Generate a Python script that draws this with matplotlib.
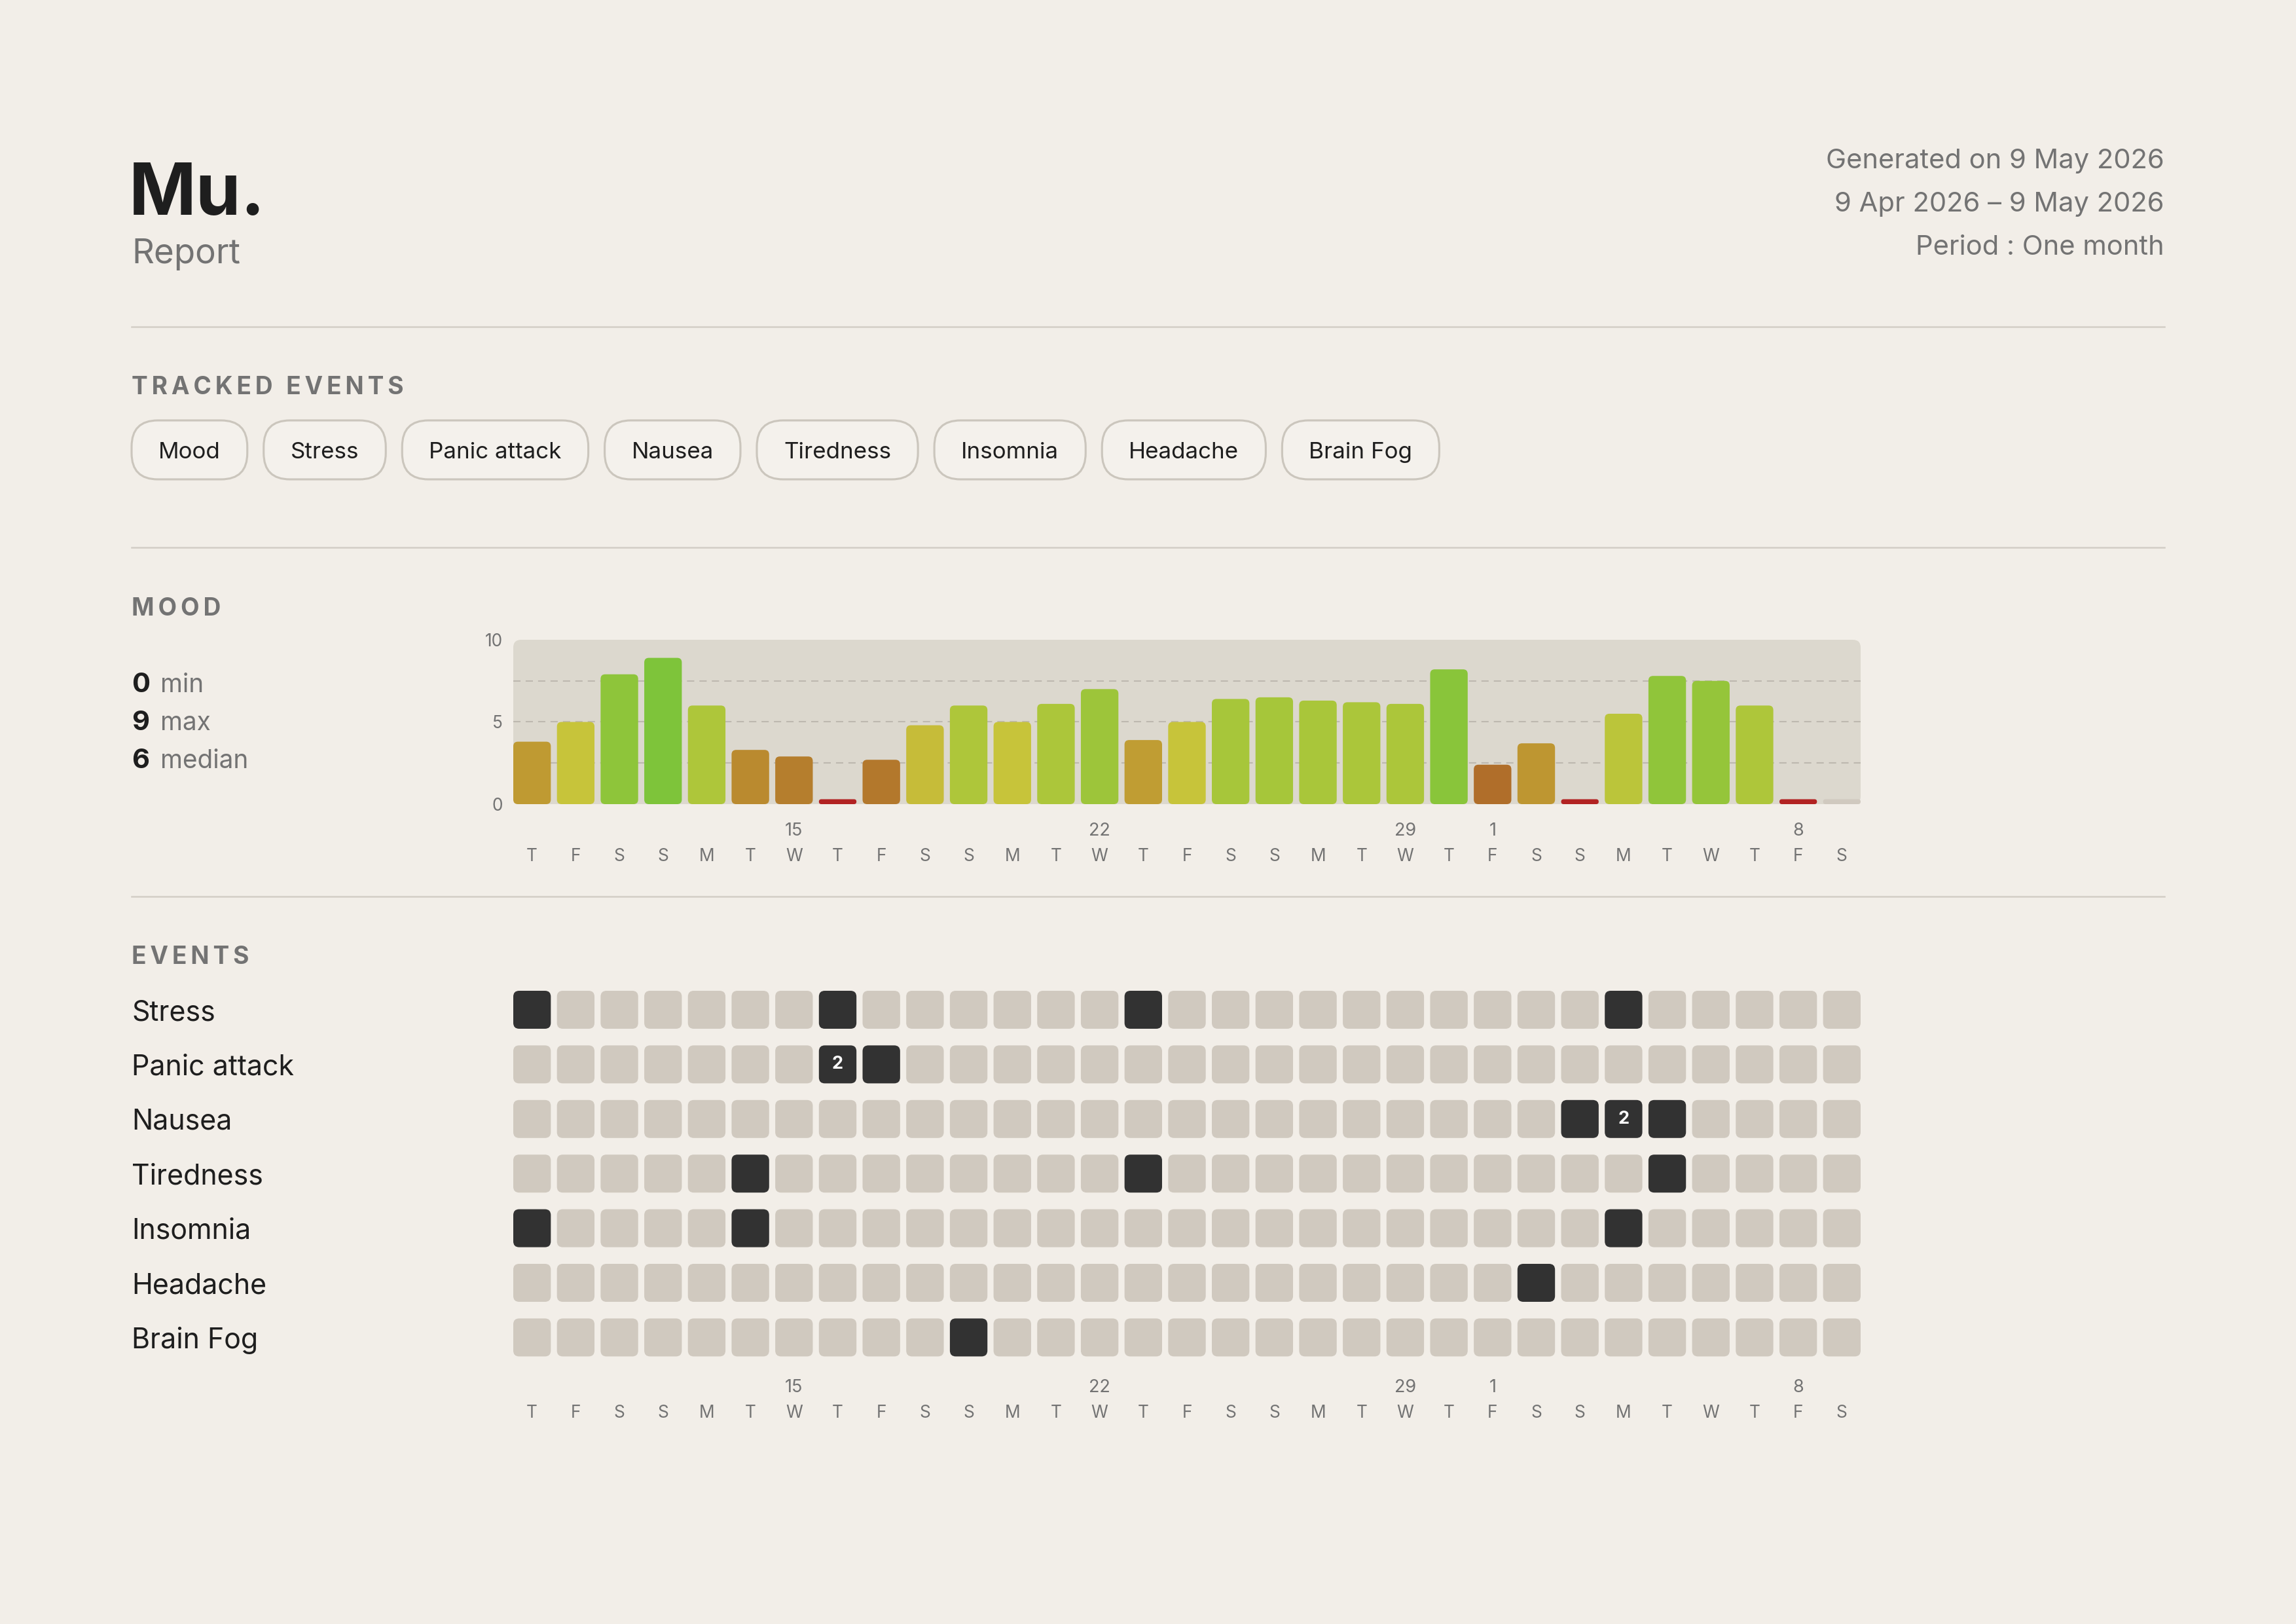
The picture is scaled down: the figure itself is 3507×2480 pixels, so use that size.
import numpy as np
import matplotlib
matplotlib.use("Agg")
import matplotlib.pyplot as plt
from matplotlib.patches import FancyBboxPatch
from matplotlib.lines import Line2D
from matplotlib.colors import LinearSegmentedColormap
from matplotlib.transforms import blended_transform_factory, IdentityTransform

plt.rcParams['font.family'] = ['Inter', 'DejaVu Sans']

# ---- data ----
header_lines = ["Generated on 9 May 2026", "9 Apr 2026 \u2013 9 May 2026", "Period : One month"]
tracked = ["Mood", "Stress", "Panic attack", "Nausea", "Tiredness", "Insomnia", "Headache", "Brain Fog"]

weekdays = ["T", "F", "S", "S", "M", "T", "W", "T", "F", "S", "S", "M", "T", "W", "T", "F",
            "S", "S", "M", "T", "W", "T", "F", "S", "S", "M", "T", "W", "T", "F", "S"]
date_labels = ["", "", "", "", "", "", "15", "", "", "", "", "", "", "22", "", "",
               "", "", "", "", "29", "", "1", "", "", "", "", "", "", "8", ""]

mood = [3.8, 5.0, 7.9, 8.9, 6.0, 3.3, 2.9, 0, 2.7, 4.8, 6.0, 5.0, 6.1, 7.0, 3.9, 5.0,
        6.4, 6.5, 6.3, 6.2, 6.1, 8.2, 2.4, 3.7, 0, 5.5, 7.8, 7.5, 6.0, 0, np.nan]

event_names = ["Stress", "Panic attack", "Nausea", "Tiredness", "Insomnia", "Headache", "Brain Fog"]
stress     = [1,0,0,0,0,0,0,1,0,0,0,0,0,0,1,0,0,0,0,0,0,0,0,0,0,1,0,0,0,0,0]
panic      = [0,0,0,0,0,0,0,2,1,0,0,0,0,0,0,0,0,0,0,0,0,0,0,0,0,0,0,0,0,0,0]
nausea     = [0,0,0,0,0,0,0,0,0,0,0,0,0,0,0,0,0,0,0,0,0,0,0,0,1,2,1,0,0,0,0]
tiredness  = [0,0,0,0,0,1,0,0,0,0,0,0,0,0,1,0,0,0,0,0,0,0,0,0,0,0,1,0,0,0,0]
insomnia   = [1,0,0,0,0,1,0,0,0,0,0,0,0,0,0,0,0,0,0,0,0,0,0,0,0,1,0,0,0,0,0]
headache   = [0,0,0,0,0,0,0,0,0,0,0,0,0,0,0,0,0,0,0,0,0,0,0,1,0,0,0,0,0,0,0]
brain_fog  = [0,0,0,0,0,0,0,0,0,0,1,0,0,0,0,0,0,0,0,0,0,0,0,0,0,0,0,0,0,0,0]
events = [stress, panic, nausea, tiredness, insomnia, headache, brain_fog]

# ---- style ----
BG = "#f2eee8"
PANEL = "#dcd8ce"
RULE = "#d3cec6"
DARK = "#1e1e1e"
GREY = "#737373"
EMPTY = "#d0c9bf"
FILLED = "#323232"
mood_cmap = LinearSegmentedColormap.from_list("mood", [
    (0.0, "#b22222"), (0.24, "#b06e2a"), (0.38, "#bf9a32"), (0.5, "#c8c43a"),
    (0.6, "#aec63a"), (0.9, "#7cc43a"), (1.0, "#6ec23a")])

W, H = 3507, 2480
DPI = 300
fig = plt.figure(figsize=(W / DPI, H / DPI), dpi=DPI)
fig.patch.set_facecolor(BG)
renderer = fig.canvas.get_renderer()


def ftext(x, y, s, **kw):
    return fig.text(x / W, 1 - y / H, s, **kw)


def rule(y):
    fig.add_artist(Line2D([201 / W, 3306 / W], [1 - y / H] * 2, color=RULE, lw=0.6))


def spaced(s):
    return "\u2009".join(s)


# header
ftext(197, 328, "Mu.", fontsize=26.5, fontweight="bold", color=DARK, va="baseline")
ftext(201, 402, "Report", fontsize=12.7, color=GREY, va="baseline")
for y, s in zip([257, 323, 389], header_lines):
    ftext(3306, y, s, fontsize=10, color=GREY, ha="right", va="baseline")
rule(499)

# tracked events chips
ftext(201, 602, spaced("TRACKED EVENTS"), fontsize=8.9, fontweight="bold", color=GREY, va="baseline")
x = 201
for name in tracked:
    t = ftext(x + 41, 687, name, fontsize=8.4, color=DARK, va="center_baseline")
    w = t.get_window_extent(renderer).width
    chip = FancyBboxPatch((x, H - 732), w + 82, 90, boxstyle="round,pad=0,rounding_size=40",
                          transform=IdentityTransform(), facecolor="#f4f1ec",
                          edgecolor="#cbc6bd", lw=0.75, zorder=0)
    fig.add_artist(chip)
    x += w + 82 + 25
rule(836)

# mood section
ftext(201, 940, spaced("MOOD"), fontsize=8.9, fontweight="bold", color=GREY, va="baseline")
vals = np.array(mood, dtype=float)
stats = [(int(round(np.nanmin(vals))), "min"), (int(round(np.nanmax(vals))), "max"),
         (int(round(np.nanmedian(vals))), "median")]
for y, (v, lab) in zip([1057, 1115, 1173], stats):
    ftext(201, y, str(v), fontsize=10, fontweight="bold", color=DARK, va="baseline")
    ftext(245, y, lab, fontsize=9.3, color=GREY, va="baseline")

n = len(mood)
x0, x1 = 784, 2842
ax = fig.add_axes([x0 / W, 1 - 1228 / H, (x1 - x0) / W, (1228 - 977) / H])
ax.set_xlim(-0.43, n - 1 + 0.43)
ax.set_ylim(0, 10)
ax.patch.set_visible(False)
for sp in ax.spines.values():
    sp.set_visible(False)
ax.set_xticks([])
ax.set_yticks([0, 5, 10])
ax.set_yticklabels(["0", "5", "10"])
ax.tick_params(axis="y", length=0, pad=3.8, labelsize=6.3, labelcolor=GREY)

px_x = (x1 - x0) / (n - 1 + 0.86)
px_y = (1228 - 977) / 10

panel = FancyBboxPatch((-0.43, 0), n - 1 + 0.86, 10, boxstyle="round,pad=0,rounding_size=0.18",
                       mutation_aspect=px_x / px_y, facecolor=PANEL, edgecolor="none", zorder=0)
ax.add_patch(panel)
for g in [2.5, 5, 7.5]:
    ax.axhline(g, color="#bdb8af", lw=0.5, dashes=(5.3, 3.8), zorder=1)

stub = 0.3
heights = np.where(np.isnan(vals) | (vals == 0), stub, vals)
colors = []
for v in vals:
    if np.isnan(v):
        colors.append(EMPTY)
    else:
        colors.append(mood_cmap(v / 10))
bars = ax.bar(np.arange(n), heights, width=0.86, color=colors)
r = 7 / px_x
for b, c in zip(bars, colors):
    bx, by = b.get_x(), b.get_y()
    bw, bh = b.get_width(), b.get_height()
    rr = min(r, bh * px_y / px_x / 2)
    ax.add_patch(FancyBboxPatch((bx, by), bw, bh, boxstyle=f"round,pad=0,rounding_size={rr}",
                                mutation_aspect=px_x / px_y, facecolor=c, edgecolor="none", zorder=2))
    b.set_visible(False)


def day_axis(a, y_date, y_day):
    tr_date = blended_transform_factory(a.transData, fig.transFigure)
    for i in range(n):
        if date_labels[i]:
            a.text(i, 1 - y_date / H, date_labels[i], transform=tr_date, ha="center", va="center",
                   fontsize=6.5, color=GREY)
        a.text(i, 1 - y_day / H, weekdays[i], transform=tr_date, ha="center", va="center",
               fontsize=6.3, color=GREY)


day_axis(ax, 1269, 1308)
rule(1369)

# events section
ftext(201, 1472, spaced("EVENTS"), fontsize=8.9, fontweight="bold", color=GREY, va="baseline")
row_px = 83.4
rows = len(event_names)
top = 1542 - row_px / 2
bottom = top + rows * row_px
ax2 = fig.add_axes([x0 / W, 1 - bottom / H, (x1 - x0) / W, (bottom - top) / H])
ax2.set_xlim(-0.43, n - 1 + 0.43)
ax2.set_ylim(rows - 0.5, -0.5)
ax2.set_axis_off()
cw, ch = 0.86, 58 / row_px
asp = px_x / row_px
for ri, (name, counts) in enumerate(zip(event_names, events)):
    ftext(201, top + (ri + 0.5) * row_px, name, fontsize=10.3, color=DARK, va="center_baseline")
    for ci, c in enumerate(counts):
        ax2.add_patch(FancyBboxPatch((ci - cw / 2, ri - ch / 2), cw, ch,
                                     boxstyle=f"round,pad=0,rounding_size={9 / px_x}",
                                     mutation_aspect=asp, facecolor=FILLED if c else EMPTY,
                                     edgecolor="none"))
        if c > 1:
            ax2.text(ci, ri, str(c), ha="center", va="center", fontsize=6.5,
                     fontweight="bold", color="white")

day_axis(ax2, 2119, 2158)

fig.savefig("out.png", dpi=DPI, facecolor=BG)
